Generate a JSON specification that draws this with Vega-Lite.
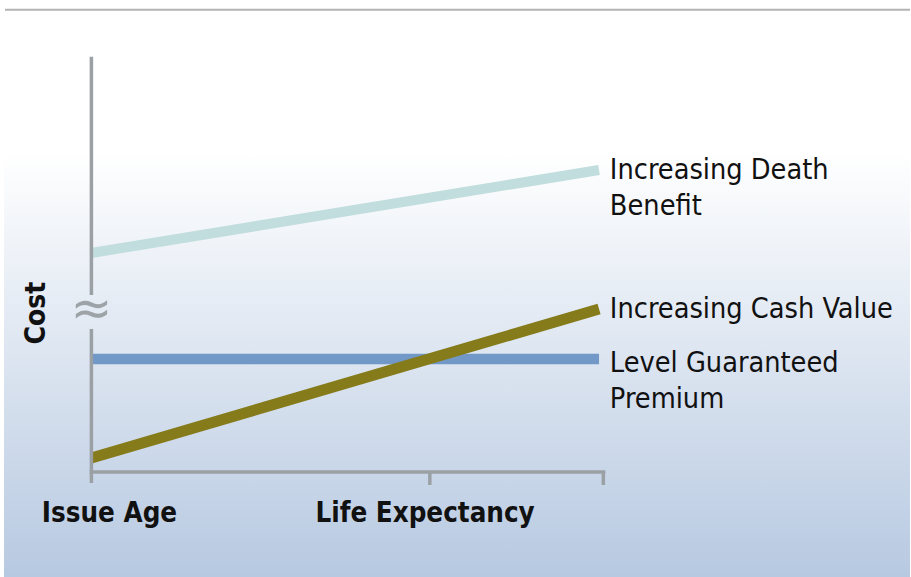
{
  "$schema": "https://vega.github.io/schema/vega-lite/v6.json",
  "width": 911,
  "height": 577,
  "autosize": {"type": "fit", "contains": "padding"},
  "padding": 0,
  "background": "#ffffff",
  "config": {"view": {"stroke": null}},
  "layer": [
    {
      "data": {"values": [{"x": -0.2582, "x2": 2.4188, "y": 115.25, "y2": -26.25}]},
      "mark": {"type": "rect", "fill": {"gradient": "linear", "x1": 0, "y1": 0, "x2": 0, "y2": 1, "stops": [{"offset": 0, "color": "#ffffff"}, {"offset": 0.25, "color": "#ffffff"}, {"offset": 1, "color": "#b7c9e1"}]}},
      "encoding": {
        "x": {"field": "x", "type": "quantitative", "scale": {"domain": [-0.27007, 2.41883], "nice": false, "zero": false}, "axis": null},
        "x2": {"field": "x2"},
        "y": {"field": "y", "type": "quantitative", "scale": {"domain": [-26.25, 118], "nice": false, "zero": false}, "axis": null},
        "y2": {"field": "y2"}
      }
    },
    {
      "data": {"values": [{"x": -0.2553, "x2": 2.4188, "y": 115.55}]},
      "mark": {"type": "rule", "color": "#b3b3b3", "strokeWidth": 2},
      "encoding": {
        "x": {"field": "x", "type": "quantitative", "scale": {"domain": [-0.27007, 2.41883], "nice": false, "zero": false}, "axis": null},
        "x2": {"field": "x2"},
        "y": {"field": "y", "type": "quantitative", "scale": {"domain": [-26.25, 118], "nice": false, "zero": false}, "axis": null}
      }
    },
    {
      "data": {"values": [
        {"series": "Increasing Death Benefit", "x": 0, "cost": 54.75},
        {"series": "Increasing Death Benefit", "x": 1.5, "cost": 75.5},
        {"series": "Level Guaranteed Premium", "x": 0, "cost": 28.25},
        {"series": "Level Guaranteed Premium", "x": 1.5, "cost": 28.25},
        {"series": "Increasing Cash Value", "x": 0, "cost": 3.5},
        {"series": "Increasing Cash Value", "x": 1.5, "cost": 40.75}
      ]},
      "mark": {"type": "line", "strokeCap": "butt"},
      "encoding": {
        "x": {"field": "x", "type": "quantitative", "scale": {"domain": [-0.27007, 2.41883], "nice": false, "zero": false}, "axis": null},
        "y": {"field": "cost", "type": "quantitative", "scale": {"domain": [-26.25, 118], "nice": false, "zero": false}, "axis": null},
        "color": {"field": "series", "type": "nominal", "scale": {"domain": ["Increasing Death Benefit", "Level Guaranteed Premium", "Increasing Cash Value"], "range": ["#c1dddd", "#7298c7", "#857b1a"]}, "legend": null},
        "strokeWidth": {"field": "series", "type": "nominal", "scale": {"domain": ["Increasing Death Benefit", "Level Guaranteed Premium", "Increasing Cash Value"], "range": [10, 11, 11.5]}, "legend": null}
      }
    },
    {
      "data": {"values": [
        {"x": -0.005, "x2": 1.5186, "y": 0, "y2": 0},
        {"x": 1, "x2": 1, "y": 0, "y2": -3.25},
        {"x": 1.5127, "x2": 1.5127, "y": 0, "y2": -3.25},
        {"x": 0, "x2": 0, "y": -2.75, "y2": 35.75},
        {"x": 0, "x2": 0, "y": 44.25, "y2": 103.825}
      ]},
      "mark": {"type": "rule", "color": "#9ba0a5", "strokeWidth": 3.5, "strokeCap": "butt"},
      "encoding": {
        "x": {"field": "x", "type": "quantitative", "scale": {"domain": [-0.27007, 2.41883], "nice": false, "zero": false}, "axis": null},
        "x2": {"field": "x2"},
        "y": {"field": "y", "type": "quantitative", "scale": {"domain": [-26.25, 118], "nice": false, "zero": false}, "axis": null},
        "y2": {"field": "y2"}
      }
    },
    {
      "data": {"values": [{"symbol": "≈", "x": 0, "cost": 40.5}]},
      "mark": {"type": "text", "font": "DejaVu Sans", "fontSize": 50, "color": "#9ea3a8", "align": "center", "baseline": "middle"},
      "encoding": {
        "x": {"field": "x", "type": "quantitative", "scale": {"domain": [-0.27007, 2.41883], "nice": false, "zero": false}, "axis": null},
        "y": {"field": "cost", "type": "quantitative", "scale": {"domain": [-26.25, 118], "nice": false, "zero": false}, "axis": null},
        "text": {"field": "symbol"}
      }
    },
    {
      "data": {"values": [
        {"label": "Increasing Death", "x": 1.532, "cost": 73.175},
        {"label": "Benefit", "x": 1.532, "cost": 64.25},
        {"label": "Increasing Cash Value", "x": 1.532, "cost": 38.5},
        {"label": "Level Guaranteed", "x": 1.532, "cost": 25.075},
        {"label": "Premium", "x": 1.532, "cost": 16.075}
      ]},
      "mark": {"type": "text", "font": "DejaVu Sans Condensed", "fontSize": 28.6, "color": "#111111", "align": "left", "baseline": "alphabetic"},
      "encoding": {
        "x": {"field": "x", "type": "quantitative", "scale": {"domain": [-0.27007, 2.41883], "nice": false, "zero": false}, "axis": null},
        "y": {"field": "cost", "type": "quantitative", "scale": {"domain": [-26.25, 118], "nice": false, "zero": false}, "axis": null},
        "text": {"field": "label"}
      }
    },
    {
      "data": {"values": [
        {"label": "Issue Age", "x": 0.0534, "cost": -12.5},
        {"label": "Life Expectancy", "x": 0.986, "cost": -12.5}
      ]},
      "mark": {"type": "text", "font": "DejaVu Sans Condensed", "fontSize": 27.5, "fontWeight": "bold", "color": "#111111", "align": "center", "baseline": "alphabetic"},
      "encoding": {
        "x": {"field": "x", "type": "quantitative", "scale": {"domain": [-0.27007, 2.41883], "nice": false, "zero": false}, "axis": null},
        "y": {"field": "cost", "type": "quantitative", "scale": {"domain": [-26.25, 118], "nice": false, "zero": false}, "axis": null},
        "text": {"field": "label"}
      }
    },
    {
      "data": {"values": [{"label": "Cost", "x": -0.1372, "cost": 39.75}]},
      "mark": {"type": "text", "font": "DejaVu Sans Condensed", "fontSize": 28, "fontWeight": "bold", "color": "#111111", "align": "center", "baseline": "alphabetic", "angle": 270},
      "encoding": {
        "x": {"field": "x", "type": "quantitative", "scale": {"domain": [-0.27007, 2.41883], "nice": false, "zero": false}, "axis": null},
        "y": {"field": "cost", "type": "quantitative", "scale": {"domain": [-26.25, 118], "nice": false, "zero": false}, "axis": null},
        "text": {"field": "label"}
      }
    }
  ]
}
